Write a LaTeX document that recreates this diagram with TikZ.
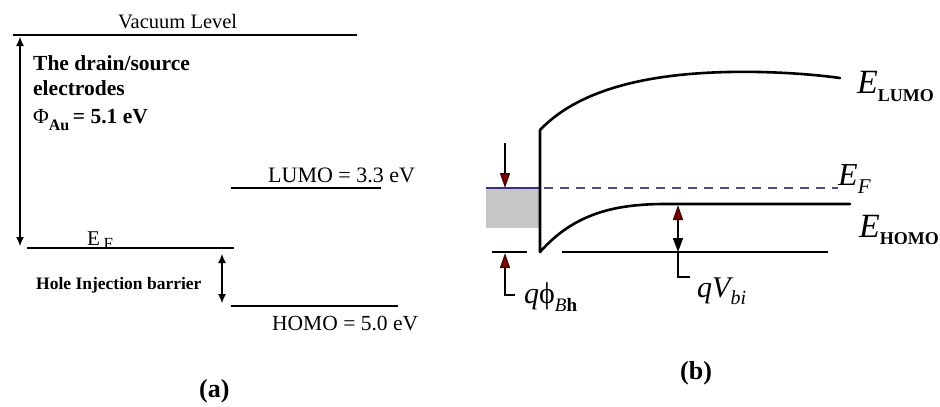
\documentclass[tikz,border=0pt]{standalone}
\usepackage{fontspec}
\setmainfont{Liberation Serif}
\usetikzlibrary{arrows.meta}
\newcommand\fs[1]{\fontsize{#1bp}{#1bp}\selectfont}
\newcommand\lowered[3]{\raisebox{-#1bp}{\fs{#2}#3}}
\begin{document}
\begin{tikzpicture}[x=1bp,y=-1bp,
  lvl/.style={line width=1.1bp},
  band/.style={line width=2.6bp,line join=round,line cap=round},
  thin/.style={line width=1.6bp},
  txt/.style={anchor=base west,inner sep=0pt},
  dbl/.style={{Latex[length=9bp,width=8bp]}-{Latex[length=9bp,width=8bp]}},
  red tip/.style={-{Triangle[length=15bp,width=10bp,fill=red!55!black,color=red!30!black]}},
  blk tip/.style={-{Triangle[length=14bp,width=10bp,fill=black]}}]
\useasboundingbox (0,0) rectangle (940,406);
% ---------- panel (a)
\node[txt,font=\fs{20.5}] (vac) at (118,28) {Vacuum Level};
\coordinate (vL) at (13,35); \coordinate (vR) at (357,35);
\draw[lvl] (vL) -- (vR);
\coordinate (wt) at (20,37); \coordinate (wb) at (20,246);
\draw[lvl,dbl] (wt) -- (wb);
\node[txt,font=\fs{21.5}\bfseries] (t1) at (33,70) {The drain/source};
\node[txt,font=\fs{21.5}\bfseries] (t2) at (33,95) {electrodes};
\node[txt,font=\fs{21.5}] (t3) at (33,123) {Φ\lowered{7}{16}{\bfseries Au}\,\bfseries= 5.1 eV};
\node[txt,font=\fs{22}] (lumoa) at (268,182) {LUMO = 3.3 eV};
\coordinate (lL) at (231,188); \coordinate (lR) at (381,188);
\draw[lvl] (lL) -- (lR);
\node[txt,font=\fs{21}] (efa) at (87,245) {E\,\lowered{4}{17}{F}};
\coordinate (eL) at (27,248); \coordinate (eR) at (234,248);
\draw[lvl] (eL) -- (eR);
\node[txt,font=\fs{17.5}\bfseries] (hib) at (36,289) {Hole Injection barrier};
\coordinate (ht) at (222,254); \coordinate (hb) at (222,303);
\draw[lvl,dbl] (ht) -- (hb);
\coordinate (hL) at (231,306); \coordinate (hR) at (398,306);
\draw[lvl] (hL) -- (hR);
\node[txt,font=\fs{21.5}] (homoa) at (272,330) {HOMO = 5.0 eV};
\node[txt,font=\fs{26}\bfseries] (capa) at (199,397) {(a)};
% ---------- panel (b)
\fill[gray!45] (486,188) rectangle (540,228);
\coordinate (mL) at (486,188); \coordinate (mR) at (540,188); \coordinate (fR) at (838,188);
\draw[line width=2bp,blue!35!black!80] (mL) -- (mR);
\draw[line width=2bp,blue!35!black!70,dash pattern=on 9bp off 7bp,dash phase=-4bp] (mR) -- (fR);
\coordinate (lumoS) at (540,130); \coordinate (lumoE) at (840,78);
\draw[band] (lumoS) .. controls (582,86) and (660,70) .. (760,72) .. controls (800,73) and (825,76) .. (lumoE);
\coordinate (cb) at (540,252); \coordinate (homoE) at (850,204);
\draw[band] (lumoS) -- (cb) .. controls (572,216) and (610,204) .. (665,204) -- (homoE);
\coordinate (sL) at (492,252); \coordinate (sR) at (527,252);
\draw[thin] (sL) -- (sR);
\coordinate (bL) at (562,252); \coordinate (bR) at (828,252);
\draw[thin] (bL) -- (bR);
% q phi_Bh arrows
\coordinate (a1s) at (505,143); \coordinate (a1e) at (505,188);
\draw[thin,red tip] (a1s) -- (a1e);
\coordinate (a2c) at (515,295); \coordinate (a2e) at (505,253);
\draw[thin,red tip] (a2c) -| (a2e);
\node[txt,font=\fs{30}\itshape] (qphi) at (524,303) {q\upshape ϕ\lowered{8}{19}{\itshape B\upshape\bfseries h}};
% qV_bi
\coordinate (vm) at (678,228); \coordinate (vt) at (678,205); \coordinate (vb) at (678,252); \coordinate (vc) at (690,277);
\draw[thin,red tip] (vm) -- (vt);
\draw[thin,blk tip] (vm) -- (vb);
\draw[thin] (vb) |- (vc);
\node[txt,font=\fs{30}\itshape] (qv) at (697,297) {qV\lowered{7}{20}{bi}};
% band labels
\node[txt,font=\fs{34}\itshape] (elumo) at (857,93) {E\lowered{8}{18}{\upshape\bfseries LUMO}};
\node[txt,font=\fs{32}\itshape] (ef) at (838,185) {E\lowered{8}{21}{F}};
\node[txt,font=\fs{34}\itshape] (ehomo) at (859,237) {E\lowered{7}{18}{\upshape\bfseries HOMO}};
\node[txt,font=\fs{26}\bfseries] (capb) at (680,379) {(b)};
\end{tikzpicture}
\end{document}
